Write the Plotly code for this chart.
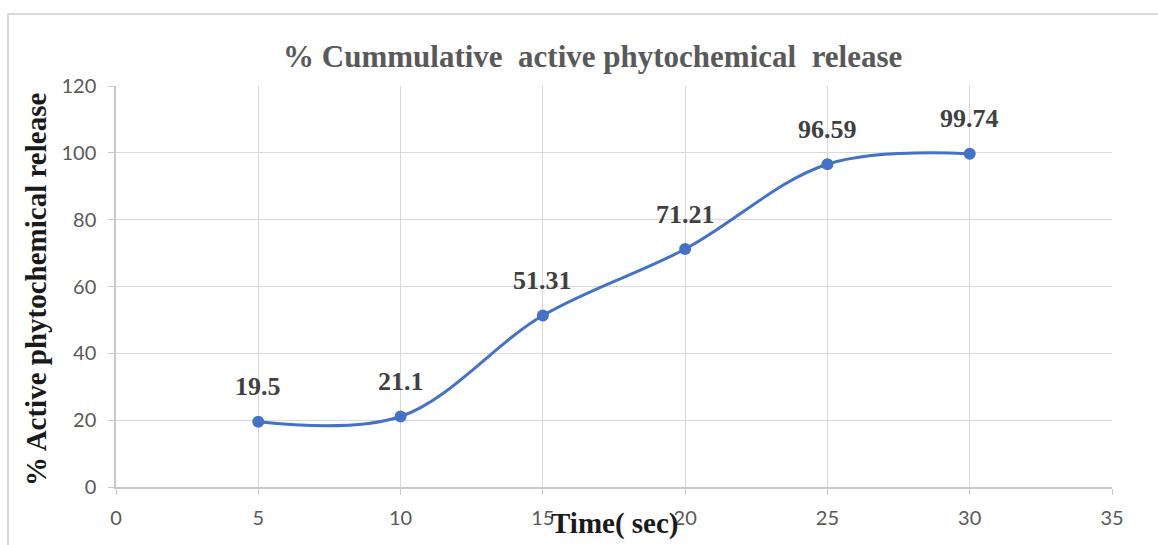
import plotly.graph_objects as go

# Release time points (seconds) and cumulative release (%)
time_sec = [5, 10, 15, 20, 25, 30]
release_pct = [19.5, 21.1, 51.31, 71.21, 96.59, 99.74]
release_labels = ["19.5", "21.1", "51.31", "71.21", "96.59", "99.74"]

x_ticks = [0, 5, 10, 15, 20, 25, 30, 35]
y_ticks = [0, 20, 40, 60, 80, 100, 120]

title_text = "% Cummulative  active phytochemical  release"
x_title = "Time( sec)"
y_title = "% Active phytochemical release"

SERIF = "Liberation Serif, Times New Roman, serif"
TICK_FONT = dict(family="Lato, Open Sans, sans-serif", size=20, color="#595959")
GRID = "#d9d9d9"

fig = go.Figure()
fig.add_trace(go.Scatter(
    x=time_sec,
    y=release_pct,
    mode="lines+markers",
    line=dict(color="#4472c4", width=3, shape="spline", smoothing=1),
    marker=dict(color="#4472c4", size=12),
    hoverinfo="x+y",
    showlegend=False,
))

# value labels above each point
for x, y, t in zip(time_sec, release_pct, release_labels):
    fig.add_annotation(
        x=x, y=y, text="<b>" + t + "</b>", showarrow=False,
        xanchor="center", yanchor="middle", yshift=35,
        font=dict(family=SERIF, size=26, color="#404040"),
    )

# chart title
fig.add_annotation(
    xref="paper", yref="paper", x=(592 - 116) / 996, y=(487 - 57) / 401,
    text="<b>" + title_text + "</b>", showarrow=False,
    xanchor="center", yanchor="middle",
    font=dict(family=SERIF, size=31, color="#595959"),
)

# axis titles
fig.add_annotation(
    xref="paper", yref="paper", x=(615 - 116) / 996, y=(487 - 523) / 401,
    text="<b>" + x_title + "</b>", showarrow=False,
    xanchor="center", yanchor="middle",
    font=dict(family=SERIF, size=29, color="#1a1a1a"),
)
fig.add_annotation(
    xref="paper", yref="paper", x=(36 - 116) / 996, y=(487 - 290) / 401,
    text="<b>" + y_title + "</b>", showarrow=False, textangle=-90,
    xanchor="center", yanchor="middle",
    font=dict(family=SERIF, size=29, color="#1a1a1a"),
)

# outer chart border
fig.add_shape(
    type="rect", xref="paper", yref="paper",
    x0=(8 - 116) / 996, x1=(1170 - 116) / 996,
    y0=(487 - 560) / 401, y1=(487 - 14) / 401,
    line=dict(color="#d9d9d9", width=2), fillcolor="rgba(0,0,0,0)",
    layer="below",
)

fig.update_layout(
    width=1158, height=545,
    margin=dict(l=116, r=46, t=86, b=58),
    paper_bgcolor="white", plot_bgcolor="white",
    xaxis=dict(
        range=[0, 35], tickvals=x_ticks, ticktext=[str(v) for v in x_ticks],
        showgrid=True, gridcolor=GRID, gridwidth=1,
        showline=True, linecolor="#c8c8c8", linewidth=1.5,
        ticks="outside", ticklen=6, tickcolor="#c8c8c8",
        tickfont=TICK_FONT, zeroline=False, fixedrange=True,
        ticklabelstandoff=6,
    ),
    yaxis=dict(
        range=[0, 120], tickvals=y_ticks, ticktext=[str(v) for v in y_ticks],
        showgrid=True, gridcolor=GRID, gridwidth=1,
        showline=True, linecolor="#c8c8c8", linewidth=1.5,
        ticks="outside", ticklen=6, tickcolor="#c8c8c8",
        tickfont=TICK_FONT, zeroline=False, fixedrange=True,
        ticklabelstandoff=8,
    ),
)

fig.write_html("out.html")
